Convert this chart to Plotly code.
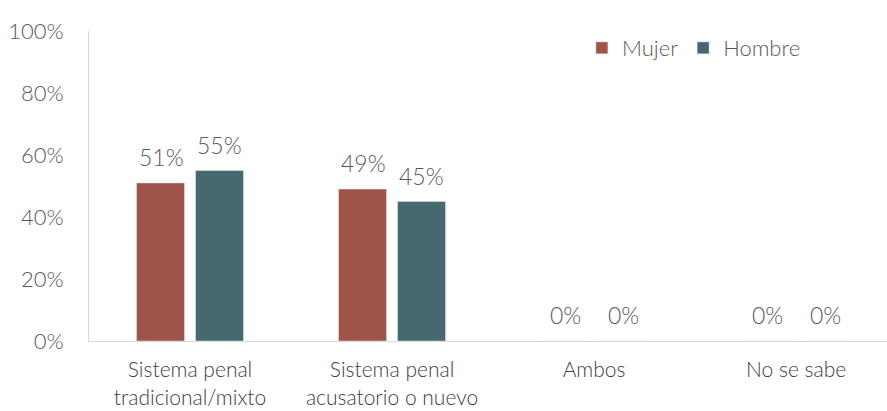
import plotly.graph_objects as go

categories = ["Sistema penal<br>tradicional/mixto", "Sistema penal<br>acusatorio o nuevo", "Ambos", "No se sabe"]
mujer = [51, 49, 0, 0]
hombre = [55, 45, 0, 0]
y_ticks = [0, 20, 40, 60, 80, 100]

MUJER_COLOR = "#9E5449"
HOMBRE_COLOR = "#466870"
FONT = "Lato"

fig = go.Figure()
fig.add_trace(go.Bar(x=categories, y=mujer, name="Mujer", marker_color=MUJER_COLOR))
fig.add_trace(go.Bar(x=categories, y=hombre, name="Hombre", marker_color=HOMBRE_COLOR))

# value labels sit well above the bars, so use annotations
for series, shift in ((mujer, -29), (hombre, 29)):
    for cat, val in zip(categories, series):
        fig.add_annotation(
            x=cat, y=val, text=f"{val}%", showarrow=False,
            xshift=shift, yshift=26, yanchor="middle",
            font=dict(family=FONT, size=23, color="#595959", weight=300),
        )

fig.update_layout(
    width=887, height=411,
    margin=dict(l=89, r=0, t=31, b=70),
    paper_bgcolor="white", plot_bgcolor="white",
    barmode="group", bargap=0.416, bargroupgap=0.186,
    font=dict(family=FONT, color="#595959", weight=300),
    legend=dict(
        orientation="h", x=0.758, y=0.945, xanchor="center", yanchor="middle",
        font=dict(size=22, color="#595959", weight=300), itemwidth=30,
        bgcolor="rgba(0,0,0,0)",
    ),
    showlegend=True,
)
fig.update_xaxes(
    range=[-0.5, 3.45], showline=True, linecolor="#d9d9d9", linewidth=1,
    showgrid=False, ticks="", ticklabelstandoff=10,
    tickfont=dict(size=21, color="#404040", weight=300),
)
fig.update_yaxes(
    range=[0, 100], tickvals=y_ticks, ticktext=[f"{v}%" for v in y_ticks],
    showline=True, linecolor="#d9d9d9", linewidth=1, showgrid=False,
    zeroline=False, ticks="", ticklabelstandoff=20,
    tickfont=dict(size=22, color="#595959", weight=300),
)

fig.write_html(
    "out.html",
    config={"displayModeBar": False},
    post_script="document.body.style.margin='0px';",
)
